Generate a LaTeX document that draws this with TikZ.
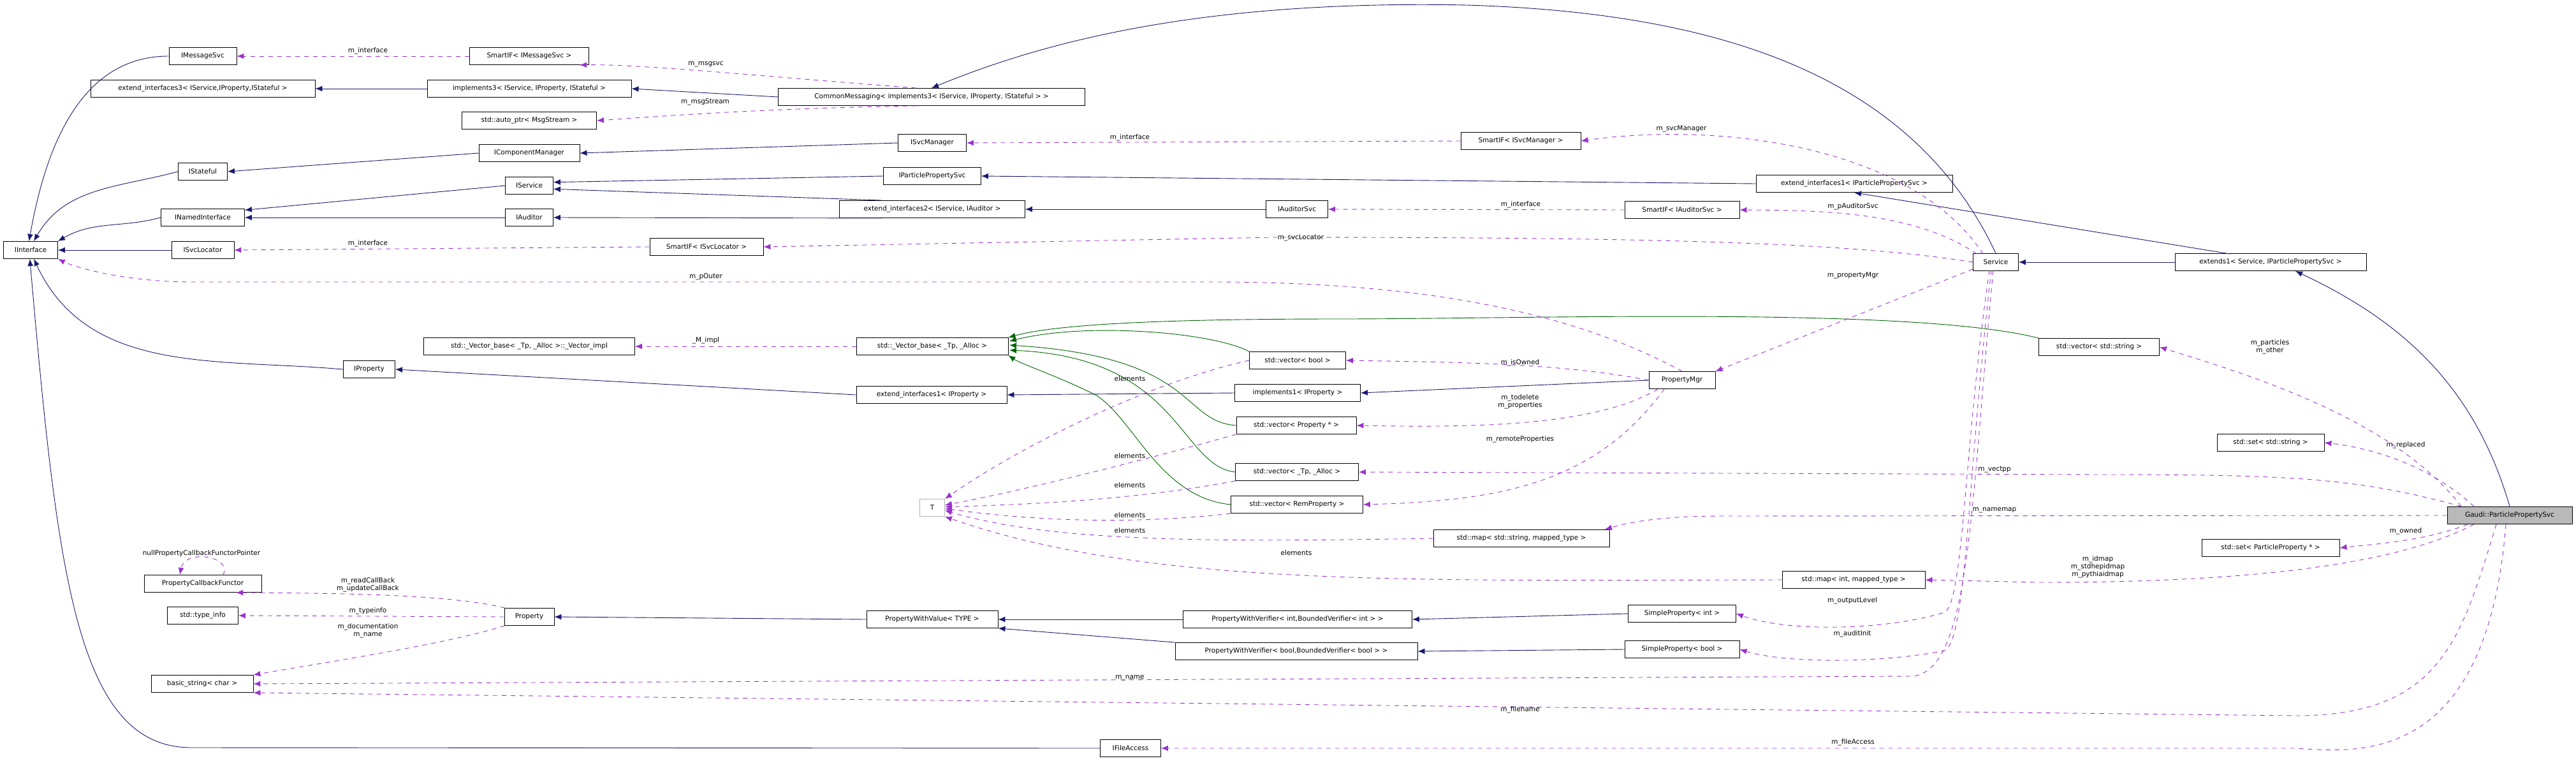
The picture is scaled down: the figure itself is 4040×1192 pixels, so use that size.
\documentclass[tikz,border=0pt]{standalone}
\usepackage{fontspec}
\setmainfont{DejaVu Sans}
\usetikzlibrary{arrows.meta}
\definecolor{inhc}{HTML}{191970}
\definecolor{usec}{HTML}{9A32CD}
\definecolor{tmpc}{HTML}{006400}
\tikzset{
  box/.style={draw=black,line width=0.9pt,fill=white,minimum height=27pt,inner sep=2pt,font=\fontsize{10.5}{12}\selectfont},
  lab/.style={inner sep=0pt,font=\fontsize{10.5}{12}\selectfont,align=center},
  inh/.style={draw=inhc,line width=0.9pt,-{Latex[length=11pt,width=9pt]}},
  tmp/.style={draw=tmpc,line width=0.9pt,-{Latex[length=11pt,width=9pt]}},
  use/.style={draw=usec,line width=0.9pt,dash pattern=on 7pt off 7pt,-{Latex[length=11pt,width=9pt]}},
}
\begin{document}
\begin{tikzpicture}[x=1pt,y=-1pt]
\useasboundingbox (0,0) rectangle (4040,1192);
% nodes
\node[box,minimum width=106] (IMS) at (318,88) {IMessageSvc};
\node[box,minimum width=352] (EI3) at (318,139) {extend\_interfaces3< IService,IProperty,IStateful >};
\node[box,minimum width=320] (IM3) at (830,139) {implements3< IService, IProperty, IStateful >};
\node[box,minimum width=187] (SIM) at (830,88) {SmartIF< IMessageSvc >};
\node[box,minimum width=211] (AP) at (830,189) {std::auto\_ptr< MsgStream >};
\node[box,minimum width=158] (ICM) at (830,240) {IComponentManager};
\node[box,minimum width=77] (IST) at (318,269) {IStateful};
\node[box,minimum width=75] (ISV) at (830,291) {IService};
\node[box,minimum width=131] (INI) at (318,341) {INamedInterface};
\node[box,minimum width=75] (IAU) at (830,341) {IAuditor};
\node[box,minimum width=85] (II) at (48,392) {IInterface};
\node[box,minimum width=98] (ISL) at (318,392) {ISvcLocator};
\node[box,minimum width=481] (CM) at (1461,152) {CommonMessaging< implements3< IService, IProperty, IStateful > >};
\node[box,minimum width=107] (ISM) at (1462,224) {ISvcManager};
\node[box,minimum width=153] (IPPS) at (1462,276) {IParticlePropertySvc};
\node[box,minimum width=291] (EI2) at (1462,328) {extend\_interfaces2< IService, IAuditor >};
\node[box,minimum width=97] (IAS) at (2034,328) {IAuditorSvc};
\node[box,minimum width=178] (SISL) at (1108,387) {SmartIF< ISvcLocator >};
\node[box,minimum width=188] (SISM) at (2385,221) {SmartIF< ISvcManager >};
\node[box,minimum width=308] (EI1P) at (2908,288) {extend\_interfaces1< IParticlePropertySvc >};
\node[box,minimum width=180] (SIAS) at (2638,329) {SmartIF< IAuditorSvc >};
\node[box,minimum width=71] (SVC) at (3130,411) {Service};
\node[box,minimum width=300] (EX1) at (3561,411) {extends1< Service, IParticlePropertySvc >};
\node[box,minimum width=189] (VSTR) at (3292,544) {std::vector< std::string >};
\node[box,minimum width=168] (SSTR) at (3561,694) {std::set< std::string >};
\node[box,minimum width=196,fill=gray!55] (GPS) at (3936,808) {Gaudi::ParticlePropertySvc};
\node[box,minimum width=216] (SPP) at (3561,859) {std::set< ParticleProperty * >};
\node[box,minimum width=224] (MINT) at (2907,909) {std::map< int, mapped\_type >};
\node[box,minimum width=104] (PM) at (2638,596) {PropertyMgr};
\node[box,minimum width=276] (MSTR) at (2386,844) {std::map< std::string, mapped\_type >};
\node[box,minimum width=169] (SPI) at (2638,962) {SimpleProperty< int >};
\node[box,minimum width=180] (SPB) at (2638,1018) {SimpleProperty< bool >};
\node[box,minimum width=238] (VB) at (1462,543) {std::\_Vector\_base< \_Tp, \_Alloc >};
\node[box,minimum width=236] (EI1) at (1461,619) {extend\_interfaces1< IProperty >};
\node[box,minimum width=39,draw=gray!60] (T) at (1462,796) {T};
\node[box,minimum width=206] (PWV) at (1462,971) {PropertyWithValue< TYPE >};
\node[box,minimum width=95] (IFA) at (1773,1173) {IFileAccess};
\node[box,minimum width=151] (VBOOL) at (2035,565) {std::vector< bool >};
\node[box,minimum width=197] (IMP1) at (2035,616) {implements1< IProperty >};
\node[box,minimum width=188] (VPROP) at (2033,667) {std::vector< Property * >};
\node[box,minimum width=193] (VTP) at (2034,740) {std::vector< \_Tp, \_Alloc >};
\node[box,minimum width=207] (VREM) at (2034,791) {std::vector< RemProperty >};
\node[box,minimum width=359] (PWVI) at (2035,971) {PropertyWithVerifier< int,BoundedVerifier< int > >};
\node[box,minimum width=380] (PWVB) at (2033,1021) {PropertyWithVerifier< bool,BoundedVerifier< bool > >};
\node[box,minimum width=331] (VI) at (830,543) {std::\_Vector\_base< \_Tp, \_Alloc >::\_Vector\_impl};
\node[box,minimum width=81] (IPR) at (579,579) {IProperty};
\node[box,minimum width=184] (PCF) at (318,915) {PropertyCallbackFunctor};
\node[box,minimum width=111] (TI) at (318,965) {std::type\_info};
\node[box,minimum width=78] (PR) at (830,967) {Property};
\node[box,minimum width=160] (BS) at (317,1072) {basic\_string< char >};

% inheritance
\draw[inh] (IMS.west) to[out=180,in=80] (II.100);
\draw[inh] (IST.west) to[out=195,in=60] (II.70);
\draw[inh] (INI.west) to[out=195,in=30] (II.north east);
\draw[inh] (ISL.west) -- (II.east);
\draw[inh] (IPR.west) to[out=175,in=-65] (II.-70);
\draw[inh] (IFA.west) -- (300,1172) .. controls (120,1172) and (90,900) .. (II.-95);
\draw[inh] (ICM.west) -- (IST.east);
\draw[inh] (ISV.west) -- (INI.10);
\draw[inh] (IAU.west) -- (INI.east);
\draw[inh] (ISM.west) -- (ICM.east);
\draw[inh] (IPPS.west) -- (ISV.8);
\draw[inh] (EI2.170) -- (ISV.-8);
\draw[inh] (EI2.190) -- (IAU.east);
\draw[inh] (IAS.west) -- (EI2.east);
\draw[inh] (IM3.west) -- (EI3.east);
\draw[inh] (CM.west) -- (IM3.east);
\draw[inh] (SVC.north) .. controls (3000,120) and (2700,20) .. (2300,8) .. controls (1900,0) and (1650,60) .. (CM.north);
\draw[inh] (EI1P.west) -- (IPPS.east);
\draw[inh] (EX1.west) -- (SVC.east);
\draw[inh] (3497,398) -- (EI1P.south);
\draw[inh] (GPS.north) .. controls (3880,600) and (3760,500) .. (3600,425);
\draw[inh] (EI1.west) -- (IPR.east);
\draw[inh] (IMP1.west) -- (EI1.east);
\draw[inh] (PM.west) -- (IMP1.east);
\draw[inh] (PWV.west) -- (PR.east);
\draw[inh] (PWVI.west) -- (PWV.east);
\draw[inh] (PWVB.north west) -- (PWV.south east);
\draw[inh] (SPI.west) -- (PWVI.east);
\draw[inh] (SPB.west) -- (PWVB.east);

% template
\draw[tmp] (VSTR.north west) .. controls (3000,480) and (2400,500) .. (2100,500) .. controls (1800,500) and (1650,510) .. (VB.north east);
\draw[tmp] (VBOOL.north west) .. controls (1900,520) and (1700,505) .. (1583,535);
\draw[tmp] (VPROP.west) .. controls (1850,660) and (1880,560) .. (1583,541);
\draw[tmp] (VTP.west) .. controls (1850,730) and (1850,560) .. (1583,549);
\draw[tmp] (VREM.west) .. controls (1820,780) and (1780,660) .. (1720,620) .. controls (1660,590) and (1600,570) .. (VB.south east);

% usage
\draw[use] (SIM.west) -- (IMS.east);
\draw[use] (CM.150) .. controls (1200,120) and (1000,100) .. (SIM.-10);
\draw[use] (CM.210) .. controls (1180,170) and (1000,185) .. (AP.east);
\draw[use] (SISM.west) -- (ISM.east);
\draw[use] (SIAS.west) -- (IAS.east);
\draw[use] (SISL.west) -- (ISL.east);
\draw[use] (3110,398) .. controls (3000,230) and (2700,190) .. (SISM.east);
\draw[use] (3100,398) .. controls (3000,330) and (2850,330) .. (SIAS.east);
\draw[use] (SVC.west) .. controls (2900,380) and (2600,372) .. (2000,372) -- (SISL.east);
\draw[use] (3094,422) -- (PM.north east);
\draw[use] (3120,424) .. controls (3080,700) and (3080,940) .. (3050,960) .. controls (2950,990) and (2800,990) .. (SPI.east);
\draw[use] (3123,424) .. controls (3085,750) and (3085,1000) .. (3050,1020) .. controls (2950,1040) and (2800,1040) .. (SPB.east);
\draw[use] (3126,424) .. controls (3090,800) and (3090,1050) .. (3000,1060) -- (BS.east);
\draw[use] (VB.west) -- (VI.east);
\draw[use] (PM.north) .. controls (2450,480) and (2200,442) .. (1900,442) -- (300,442) .. controls (200,442) and (120,420) .. (II.south east);
\draw[use] (PM.west) .. controls (2450,570) and (2300,568) .. (VBOOL.east);
\draw[use] (2600,610) .. controls (2500,670) and (2300,670) .. (VPROP.east);
\draw[use] (2610,610) .. controls (2500,760) and (2350,785) .. (VREM.east);
\draw[use] (VBOOL.west) .. controls (1800,600) and (1600,700) .. (T.north east);
\draw[use] (VPROP.south west) .. controls (1800,720) and (1600,770) .. (T.12);
\draw[use] (VTP.south west) .. controls (1800,780) and (1650,790) .. (T.4);
\draw[use] (VREM.south west) .. controls (1800,820) and (1650,820) .. (T.-4);
\draw[use] (MSTR.west) .. controls (1900,850) and (1650,850) .. (T.-12);
\draw[use] (MINT.west) .. controls (2200,910) and (1800,920) .. (T.south east);
\draw[use] (PR.160) .. controls (700,930) and (500,930) .. (PCF.-15);
\draw[use] (PR.west) -- (TI.east);
\draw[use] (PR.200) .. controls (700,1010) and (500,1040) .. (BS.north east);
\draw[use] (350,901) .. controls (365,872) and (290,860) .. (282,901);
\draw[use] (3860,794) .. controls (3750,650) and (3500,580) .. (VSTR.east);
\draw[use] (3880,794) .. controls (3800,720) and (3700,700) .. (SSTR.east);
\draw[use] (3860,794) .. controls (3700,750) and (3600,744) .. (3300,744) -- (VTP.east);
\draw[use] (GPS.west) -- (2700,809) .. controls (2600,809) and (2550,820) .. (2517,830);
\draw[use] (3870,822) .. controls (3800,850) and (3700,855) .. (SPP.east);
\draw[use] (3880,822) .. controls (3750,890) and (3500,913) .. (3200,913) -- (MINT.east);
\draw[use] (3915,822) .. controls (3860,1000) and (3830,1122) .. (3600,1122) -- (BS.south east);
\draw[use] (3930,822) .. controls (3900,1200) and (3700,1180) .. (3600,1173) -- (IFA.east);

% labels
\node[lab] (l1) at (577,80) {m\_interface};
\node[lab] (l2) at (1107,101) {m\_msgsvc};
\node[lab] (l3) at (1106,160) {m\_msgStream};
\node[lab] (l4) at (1772,216) {m\_interface};
\node[lab] (l5) at (577,382) {m\_interface};
\node[lab] (l6) at (2637,202) {m\_svcManager};
\node[lab] (l7) at (2385,321) {m\_interface};
\node[lab] (l8) at (2906,324) {m\_pAuditorSvc};
\node[lab] (l9) at (2040,373) {m\_svcLocator};
\node[lab] (l10) at (2906,432) {m\_propertyMgr};
\node[lab] (l11) at (1107,434) {m\_pOuter};
\node[lab] (l12) at (1107,534) {\_M\_impl};
\node[lab] (l13) at (2384,569) {m\_isOwned};
\node[lab] (l14) at (2384,630) {m\_todelete\\m\_properties};
\node[lab] (l15) at (2384,689) {m\_remoteProperties};
\node[lab] (l16) at (1772,594) {elements};
\node[lab] (l17) at (1772,715) {elements};
\node[lab] (l18) at (1772,761) {elements};
\node[lab] (l19) at (1772,808) {elements};
\node[lab] (l20) at (1772,832) {elements};
\node[lab] (l21) at (2033,867) {elements};
\node[lab] (l22) at (3560,544) {m\_particles\\m\_other};
\node[lab] (l23) at (3773,698) {m\_replaced};
\node[lab] (l24) at (3128,736) {m\_vectpp};
\node[lab] (l25) at (3128,800) {m\_namemap};
\node[lab] (l26) at (3773,833) {m\_owned};
\node[lab] (l27) at (3290,889) {m\_idmap\\m\_stdhepidmap\\m\_pythiaidmap};
\node[lab] (l28) at (2905,942) {m\_outputLevel};
\node[lab] (l29) at (2905,994) {m\_auditInit};
\node[lab] (l30) at (1772,1063) {m\_name};
\node[lab] (l31) at (2384,1113) {m\_filename};
\node[lab] (l32) at (2906,1164) {m\_fileAccess};
\node[lab] (l33) at (316,868) {nullPropertyCallbackFunctorPointer};
\node[lab] (l34) at (577,917) {m\_readCallBack\\m\_updateCallBack};
\node[lab] (l35) at (577,958) {m\_typeinfo};
\node[lab] (l36) at (577,989) {m\_documentation\\m\_name};
\end{tikzpicture}
\end{document}
